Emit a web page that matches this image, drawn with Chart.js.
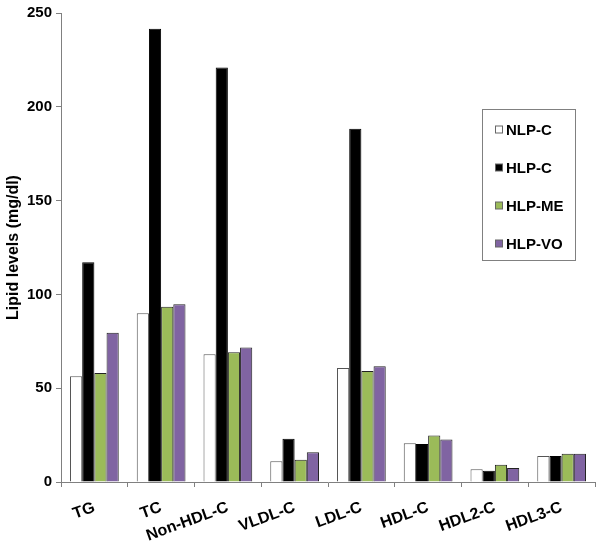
<!DOCTYPE html>
<html>
<head>
<meta charset="utf-8">
<script src="https://cdn.jsdelivr.net/npm/chart.js@4/dist/chart.umd.min.js"></script>
<style>
  body { margin: 0; background: #fff; }
  #lipidChart { display: block; }
</style>
</head>
<body>
<canvas id="lipidChart" width="600" height="550"></canvas>
<script>
// donnees
const categories = ['TG', 'TC', 'Non-HDL-C', 'VLDL-C', 'LDL-C', 'HDL-C', 'HDL2-C', 'HDL3-C'];
const nlpC  = [56.4, 89.9, 68.1, 11.1, 60.8, 20.7, 6.8, 13.8];
const hlpC  = [117.1, 241.6, 221, 23.1, 188.3, 20.2, 6.0, 13.8];
const hlpME = [58.1, 93.4, 69.2, 11.9, 59.2, 24.8, 9.2, 15.1];
const hlpVO = [79.5, 94.8, 71.7, 15.8, 61.7, 22.7, 7.4, 15.0];
const yTicks = [0, 50, 100, 150, 200, 250];

const font = 'Liberation Sans, Arial, sans-serif';

// legende dessinee dans la zone du graphique
const boxLegend = {
  id: 'boxLegend',
  afterDraw(chart) {
    const ctx = chart.ctx;
    ctx.save();
    ctx.strokeStyle = '#808080';
    ctx.lineWidth = 1;
    ctx.strokeRect(482.5, 109.5, 93, 151);
    ctx.font = 'bold 15px ' + font;
    ctx.textBaseline = 'middle';
    chart.data.datasets.forEach(function (ds, i) {
      const y = 129.5 + i * 38;
      ctx.fillStyle = ds.backgroundColor;
      ctx.fillRect(495.5, y - 3.5, 7, 7);
      ctx.strokeStyle = '#666';
      ctx.strokeRect(495.5, y - 3.5, 7, 7);
      ctx.fillStyle = '#000';
      ctx.fillText(ds.label, 506, y + 1);
    });
    ctx.restore();
  }
};

const ctx1 = document.getElementById('lipidChart').getContext('2d');
const lipidChart = new Chart(ctx1, {
  type: 'bar',
  data: {
    labels: categories,
    datasets: [
      { label: 'NLP-C', data: nlpC, backgroundColor: '#ffffff', borderColor: '#555555', borderWidth: 1 },
      { label: 'HLP-C', data: hlpC, backgroundColor: '#000000', borderColor: '#000000', borderWidth: 1 },
      { label: 'HLP-ME', data: hlpME, backgroundColor: '#9BBB59', borderColor: '#222222', borderWidth: 1 },
      { label: 'HLP-VO', data: hlpVO, backgroundColor: '#8064A2', borderColor: '#222222', borderWidth: 1 }
    ]
  },
  options: {
    responsive: false,
    animation: false,
    layout: { padding: { top: 6, right: 5, left: 0, bottom: 0 } },
    datasets: {
      bar: { categoryPercentage: 0.73, barPercentage: 1.0 }
    },
    plugins: {
      legend: { display: false },
      tooltip: { enabled: false }
    },
    scales: {
      x: {
        grid: { display: true, drawOnChartArea: false, offset: true, color: '#808080', tickLength: 5 },
        border: { color: '#808080' },
        ticks: {
          color: '#000',
          font: { family: font, size: 16, weight: 'bold' },
          minRotation: 20,
          maxRotation: 20,
          autoSkip: false,
          padding: 11
        },
        afterFit(scale) { scale.height = 68; }
      },
      y: {
        min: 0,
        max: 250,
        afterBuildTicks(scale) { scale.ticks = yTicks.map(v => ({ value: v })); },
        grid: { display: true, drawOnChartArea: false, color: '#808080', tickLength: 5 },
        border: { color: '#808080' },
        ticks: {
          color: '#000',
          font: { family: font, size: 15, weight: 'bold' },
          padding: 4
        },
        title: {
          display: true,
          text: 'Lipid levels (mg/dl)',
          color: '#000',
          font: { family: font, size: 16, weight: 'bold' },
          padding: { top: 4, bottom: 0 }
        },
        afterFit(scale) { scale.width = 61; }
      }
    }
  },
  plugins: [boxLegend]
});
</script>
</body>
</html>
